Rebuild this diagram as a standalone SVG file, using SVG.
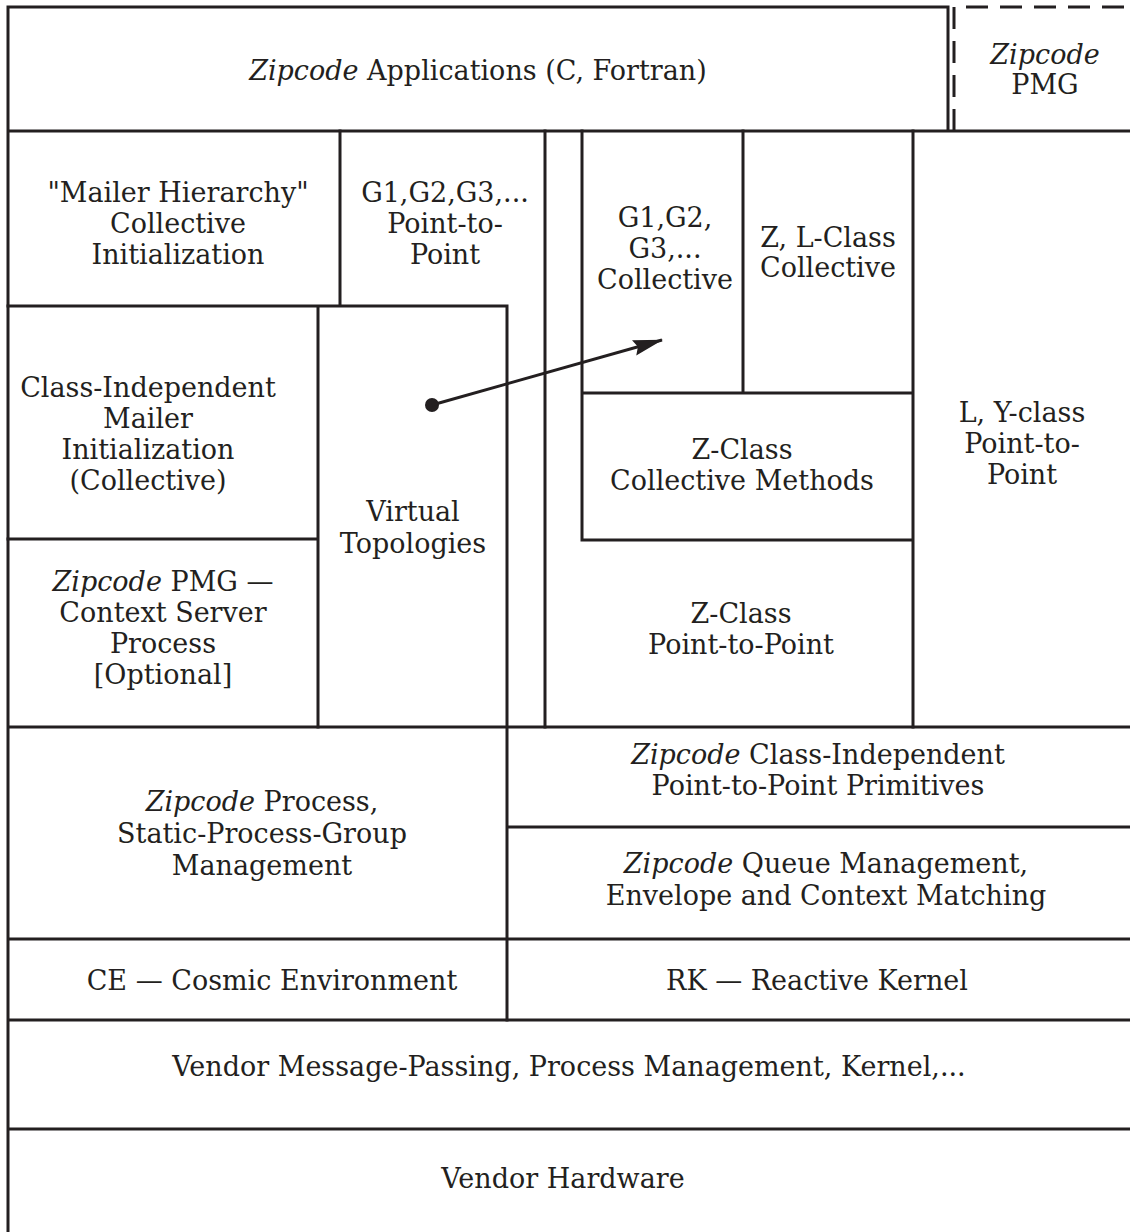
<svg xmlns="http://www.w3.org/2000/svg" width="1130" height="1232" viewBox="0 0 1130 1232">
<defs>
<style>
.ln{stroke:#231f20;stroke-width:3;fill:none;stroke-linecap:square}
.dash{stroke:#231f20;stroke-width:3;fill:none;stroke-dasharray:22 12}
text{font-family:"DejaVu Serif","Liberation Serif",serif;font-size:27px;fill:#231f20;text-anchor:middle}
.it{font-style:italic}
</style>
<marker id="ah" markerWidth="30" markerHeight="16" refX="29" refY="8" orient="auto" markerUnits="userSpaceOnUse" viewBox="0 0 30 16">
<path d="M0,0 L30,8 L0,16 L4,8 Z" fill="#231f20"/>
</marker>
</defs>
<rect width="1130" height="1232" fill="#fff"/>
<g id="frame">
<path class="ln" d="M8,7 H948 V131 M8,7 V1232 M8,131 H1130 M8,727 H1130 M8,939 H1130 M8,1020 H1130 M8,1129 H1130"/>
<path class="dash" d="M954,131 V7 H1130"/>
<path class="ln" d="M340,131 V305 M8,306 H507 M318,306 V727 M8,539 H318 M507,306 V1020 M507,827 H1130 M545,131 V727 M582,131 V540 M743,131 V393 M913,131 V727 M582,393 H913 M582,540 H913"/>
</g>
<g id="n-apps"><text x="478" y="80"><tspan class="it">Zipcode</tspan> Applications (C, Fortran)</text></g>
<g id="n-pmg"><text x="1045" y="64" class="it">Zipcode</text><text x="1045" y="94">PMG</text></g>
<g id="n-mailer"><text x="178" y="202">"Mailer Hierarchy"</text><text x="178" y="233">Collective</text><text x="178" y="264">Initialization</text></g>
<g id="n-g1p2p"><text x="445" y="202">G1,G2,G3,...</text><text x="445" y="233">Point-to-</text><text x="445" y="264">Point</text></g>
<g id="n-g1coll"><text x="665" y="227">G1,G2,</text><text x="665" y="258">G3,...</text><text x="665" y="289">Collective</text></g>
<g id="n-zlcoll"><text x="828" y="247">Z, L-Class</text><text x="828" y="277">Collective</text></g>
<g id="n-classind"><text x="148" y="397">Class-Independent</text><text x="148" y="428">Mailer</text><text x="148" y="459">Initialization</text><text x="148" y="490">(Collective)</text></g>
<g id="n-ctx"><text x="163" y="591"><tspan class="it">Zipcode</tspan> PMG —</text><text x="163" y="622">Context Server</text><text x="163" y="653">Process</text><text x="163" y="684">[Optional]</text></g>
<g id="n-vt"><text x="413" y="521">Virtual</text><text x="413" y="553">Topologies</text></g>
<g id="n-zcm"><text x="742" y="459">Z-Class</text><text x="742" y="490">Collective Methods</text></g>
<g id="n-ly"><text x="1022" y="422">L, Y-class</text><text x="1022" y="453">Point-to-</text><text x="1022" y="484">Point</text></g>
<g id="n-zp2p"><text x="741" y="623">Z-Class</text><text x="741" y="654">Point-to-Point</text></g>
<g id="n-cip2p"><text x="818" y="764"><tspan class="it">Zipcode</tspan> Class-Independent</text><text x="818" y="795">Point-to-Point Primitives</text></g>
<g id="n-proc"><text x="262" y="811"><tspan class="it">Zipcode</tspan> Process,</text><text x="262" y="843">Static-Process-Group</text><text x="262" y="875">Management</text></g>
<g id="n-queue"><text x="826" y="873"><tspan class="it">Zipcode</tspan> Queue Management,</text><text x="826" y="905">Envelope and Context Matching</text></g>
<g id="n-ce"><text x="272" y="990">CE — Cosmic Environment</text></g>
<g id="n-rk"><text x="817" y="990">RK — Reactive Kernel</text></g>
<g id="n-vmp"><text x="569" y="1076">Vendor Message-Passing, Process Management, Kernel,...</text></g>
<g id="n-vhw"><text x="563" y="1188">Vendor Hardware</text></g>
<g id="connectors">
<circle cx="432" cy="405" r="7" fill="#231f20"/>
<line x1="432" y1="405" x2="662" y2="340" stroke="#231f20" stroke-width="3" marker-end="url(#ah)"/>
</g>
</svg>
